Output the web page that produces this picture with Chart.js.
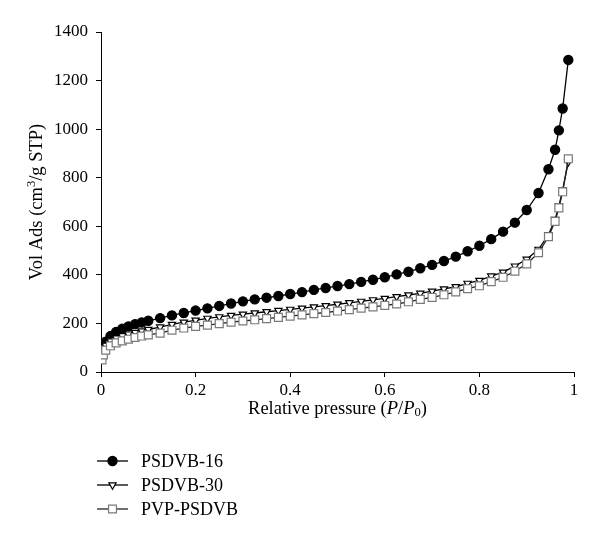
<!DOCTYPE html>
<html>
<head>
<meta charset="utf-8">
<script src="https://cdn.jsdelivr.net/npm/chart.js@4.4.1/dist/chart.umd.min.js"></script>
<style>
body { margin: 0; background: #fff; }
#wrap { width: 600px; height: 541px; }
</style>
</head>
<body>
<div id="wrap"><canvas id="chart"></canvas></div>
<script>
"use strict";
// relative pressure P/P0 (shared by all three isotherms)
const pressure = [
    0.002, 0.005, 0.01, 0.02, 0.032, 0.045, 0.058, 0.072, 0.086, 0.1,
    0.125, 0.15, 0.175, 0.2, 0.225, 0.25, 0.275, 0.3, 0.325, 0.35,
    0.375, 0.4, 0.425, 0.45, 0.475, 0.5, 0.525, 0.55, 0.575, 0.6,
    0.625, 0.65, 0.675, 0.7, 0.725, 0.75, 0.775, 0.8, 0.825, 0.85,
    0.875, 0.9, 0.925, 0.946, 0.96, 0.968, 0.976, 0.988];

const psdvb16 = [
    70, 95, 125, 148, 165, 178, 188, 197, 204, 211,
    222, 233, 243, 253, 262, 272, 282, 291, 299, 306,
    313, 321, 329, 338, 346, 354, 362, 371, 380, 390,
    402, 413, 427, 441, 457, 475, 497, 520, 547, 578,
    615, 667, 737, 835, 915, 995, 1085, 1285];

const psdvb30 = [
    60, 85, 110, 128, 140, 149, 156, 163, 169, 175,
    185, 196, 205, 213, 221, 227, 233, 238, 243, 248,
    253, 258, 263, 268, 273, 279, 285, 291, 297, 303,
    310, 317, 324, 333, 342, 351, 365, 377, 395, 411,
    436, 464, 505, 565, 628, 683, 750, 865];

const pvpPsdvb = [
    50, 70, 90, 108, 120, 128, 135, 142, 148, 153,
    160, 172, 181, 188, 193, 199, 205, 210, 215, 220,
    225, 230, 235, 240, 245, 251, 257, 263, 268, 274,
    280, 289, 299, 307, 318, 330, 343, 355, 372, 390,
    415, 445, 491, 557, 620, 676, 742, 878];

const seriesNames = ['PSDVB-16', 'PSDVB-30', 'PVP-PSDVB'];
const xRange = [0, 1, 0.2];
const yRange = [0, 1400, 200];

const SERIF = '"Liberation Serif", "DejaVu Serif", serif';

function toPoints(ys) {
    return ys.map((y, i) => ({x: pressure[i], y: y}));
}

// draws a list of text pieces, each with its own style, centred on (cx, cy)
function drawRich(ctx, parts, cx, cy, size) {
    const fontOf = p => (p.italic ? 'italic ' : '') + (p.small ? size * 0.68 : size) + 'px ' + SERIF;
    let total = 0;
    parts.forEach(p => { ctx.font = fontOf(p); total += ctx.measureText(p.t).width; });
    let x = cx - total / 2;
    ctx.textAlign = 'left';
    ctx.textBaseline = 'middle';
    ctx.fillStyle = '#000';
    parts.forEach(p => {
        ctx.font = fontOf(p);
        ctx.fillText(p.t, x, cy + (p.dy || 0));
        x += ctx.measureText(p.t).width;
    });
}

const looks = [
    {style: 'circle', radius: 4.6, fill: '#000', edge: '#000', line: '#000', rot: 0},
    {style: 'triangle', radius: 4.2, fill: '#fff', edge: '#000', line: '#000', rot: 180},
    {style: 'rect', radius: 5.6, fill: '#fff', edge: '#7a7a7a', line: '#222', rot: 0},
];

const extras = {
    id: 'extras',
    afterDraw(chart) {
        const ctx = chart.ctx;
        const area = chart.chartArea;
        ctx.save();
        // x axis title
        drawRich(ctx, [
            {t: 'Relative pressure ('},
            {t: 'P', italic: true},
            {t: '/'},
            {t: 'P', italic: true},
            {t: '0', small: true, dy: 4},
            {t: ')'}
        ], (area.left + area.right) / 2, 409, 18.5);
        // y axis title
        ctx.translate(37, (area.top + area.bottom) / 2);
        ctx.rotate(-Math.PI / 2);
        drawRich(ctx, [
            {t: 'Vol Ads (cm'},
            {t: '3', small: true, dy: -5},
            {t: '/g STP)'}
        ], 0, 0, 18.5);
        ctx.restore();

        // legend
        ctx.save();
        const rows = [461, 485, 509];
        seriesNames.forEach((name, i) => {
            const lk = looks[i];
            const y = rows[i];
            ctx.strokeStyle = lk.line;
            ctx.lineWidth = 1.3;
            ctx.beginPath();
            ctx.moveTo(97, y);
            ctx.lineTo(128, y);
            ctx.stroke();
            ctx.fillStyle = lk.fill;
            ctx.strokeStyle = lk.edge;
            ctx.lineWidth = 1.2;
            Chart.helpers.drawPoint(ctx, {pointStyle: lk.style, radius: lk.radius, rotation: lk.rot, borderWidth: 1.2}, 112.5, y);
            ctx.font = '18px ' + SERIF;
            ctx.fillStyle = '#000';
            ctx.textAlign = 'left';
            ctx.textBaseline = 'middle';
            ctx.fillText(name, 141, y + 1);
        });
        ctx.restore();
    }
};

const datasets = [psdvb16, psdvb30, pvpPsdvb].map((vals, i) => {
    const lk = looks[i];
    return {
        label: seriesNames[i],
        data: toPoints(vals),
        borderColor: lk.line,
        borderWidth: 1.3,
        pointStyle: lk.style,
        pointRadius: lk.radius,
        pointRotation: lk.rot,
        pointBackgroundColor: lk.fill,
        pointBorderColor: lk.edge,
        pointBorderWidth: 1.2,
        fill: false,
        tension: 0,
        order: 2 - i
    };
});

new Chart(document.getElementById('chart'), {
    type: 'line',
    data: {datasets: datasets},
    options: {
        responsive: true,
        maintainAspectRatio: false,
        animation: false,
        layout: {padding: {top: 32, right: 26, left: 0, bottom: 0}},
        plugins: {legend: {display: false}, tooltip: {enabled: false}},
        scales: {
            x: {
                type: 'linear',
                min: xRange[0], max: xRange[1],
                ticks: {
                    stepSize: xRange[2],
                    color: '#000',
                    padding: 3,
                    font: {family: SERIF, size: 17},
                    callback: v => String(+v.toFixed(1))
                },
                grid: {drawOnChartArea: false, drawTicks: true, tickLength: 5, color: '#000'},
                border: {color: '#000', width: 1},
                afterFit: s => { s.height = 169; }
            },
            y: {
                min: yRange[0], max: yRange[1],
                ticks: {
                    stepSize: yRange[2],
                    color: '#000',
                    padding: 8,
                    font: {family: SERIF, size: 17},
                    callback: v => String(v)
                },
                grid: {drawOnChartArea: false, drawTicks: true, tickLength: 5, color: '#000'},
                border: {color: '#000', width: 1},
                afterFit: s => { s.width = 101; }
            }
        }
    },
    plugins: [extras]
});
</script>
</body>
</html>
